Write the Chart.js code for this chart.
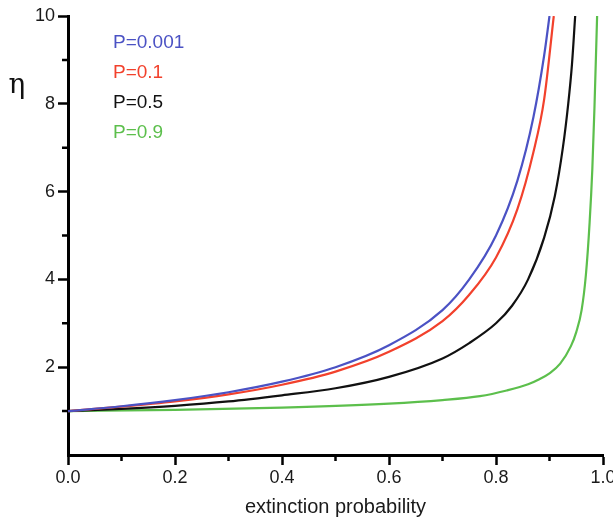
<!DOCTYPE html>
<html>
<head>
<meta charset="utf-8">
<script src="https://cdn.jsdelivr.net/npm/chart.js@4/dist/chart.umd.min.js"></script>
<style>
  html, body { margin: 0; padding: 0; background: #fff; }
  #wrap { width: 613px; height: 519px; }
</style>
</head>
<body>
<div id="wrap"><canvas id="chart" width="613" height="519"></canvas></div>
<script>
// values
const labels = ["P=0.001", "P=0.1", "P=0.5", "P=0.9"]
const colors = ["#4b52c4", "#f2412c", "#111111", "#5cbf4c"]

const blueX = [0, 0.1, 0.2, 0.3, 0.4, 0.5, 0.6, 0.7, 0.75, 0.8, 0.84, 0.87, 0.89, 0.9]
const blueY = [1, 1.11, 1.25, 1.43, 1.67, 2.0, 2.5, 3.3, 4.0, 5.0, 6.25, 7.7, 9.1, 10]

const redX = [0, 0.1, 0.2, 0.3, 0.4, 0.5, 0.6, 0.7, 0.75, 0.8, 0.84, 0.87, 0.89, 0.908]
const redY = [1, 1.1, 1.22, 1.38, 1.6, 1.9, 2.35, 3.05, 3.65, 4.5, 5.6, 6.9, 8.1, 10]

const blackX = [0, 0.1, 0.2, 0.3, 0.4, 0.5, 0.6, 0.7, 0.75, 0.8, 0.83, 0.86, 0.89, 0.91, 0.925, 0.935, 0.942, 0.948]
const blackY = [1, 1.05, 1.12, 1.22, 1.36, 1.52, 1.78, 2.2, 2.55, 3.0, 3.4, 4.0, 4.95, 5.9, 7.0, 8.0, 8.9, 10]

const greenX = [0, 0.2, 0.4, 0.6, 0.7, 0.77, 0.82, 0.86, 0.88, 0.9, 0.92, 0.94, 0.95, 0.96, 0.968, 0.975, 0.98, 0.984, 0.989]
const greenY = [1, 1.03, 1.08, 1.17, 1.25, 1.34, 1.47, 1.61, 1.72, 1.86, 2.08, 2.48, 2.8, 3.3, 4.1, 5.3, 6.5, 7.9, 10]

const xTicks = ["0.0", "0.2", "0.4", "0.6", "0.8", "1.0"]
const yTicks = ["2", "4", "6", "8", "10"]

const toPoints = (xs, ys) => xs.map((x, i) => ({ x: x, y: ys[i] }))
const seriesX = [blueX, redX, blackX, greenX]
const seriesY = [blueY, redY, blackY, greenY]

const FONT = "'Liberation Sans', Arial, sans-serif"

// text legend inside the plot, upright eta label, short minor ticks
const extras = {
  id: "extras",
  afterDraw(chart) {
    const { ctx, chartArea, scales } = chart
    ctx.save()

    // minor ticks halfway between the major ones
    ctx.strokeStyle = "#000"
    ctx.lineWidth = 2.5
    ctx.beginPath()
    for (let k = 1; k < 10; k += 2) {
      const px = scales.x.getPixelForValue(k / 10)
      ctx.moveTo(px, chartArea.bottom)
      ctx.lineTo(px, chartArea.bottom + 6)
      const py = scales.y.getPixelForValue(k)
      ctx.moveTo(chartArea.left, py)
      ctx.lineTo(chartArea.left - 6, py)
    }
    ctx.stroke()

    ctx.font = "19px " + FONT
    ctx.textBaseline = "middle"
    ctx.textAlign = "left"
    chart.data.datasets.forEach((ds, i) => {
      ctx.fillStyle = ds.borderColor
      ctx.fillText(ds.label, chartArea.left + 45, chartArea.top + 27 + i * 30)
    })
    ctx.fillStyle = "#111"
    ctx.font = "28px 'DejaVu Serif', serif"
    ctx.textAlign = "center"
    ctx.fillText("η", chartArea.left - 51, chartArea.top + 70)
    ctx.restore()
  }
}

new Chart(document.getElementById("chart"), {
  type: "line",
  data: {
    datasets: labels.map((label, i) => ({
      label: label,
      data: toPoints(seriesX[i], seriesY[i]),
      borderColor: colors[i],
      borderWidth: 2.2,
      pointRadius: 0,
      cubicInterpolationMode: "monotone",
      fill: false
    }))
  },
  options: {
    responsive: false,
    animation: false,
    layout: { padding: { top: 16, right: 10, left: 0, bottom: 0 } },
    plugins: { legend: { display: false }, tooltip: { enabled: false } },
    scales: {
      x: {
        type: "linear",
        min: 0,
        max: 1,
        afterFit(scale) {
          scale.height = 64
          scale.paddingRight = 10
        },
        border: { color: "#000", width: 3 },
        grid: { drawOnChartArea: false, drawTicks: true, tickLength: 10, tickWidth: 2.5, tickColor: "#000" },
        ticks: {
          stepSize: 0.2,
          color: "#1a1a1a",
          font: { family: FONT, size: 18 },
          padding: 2,
          maxRotation: 0,
          autoSkip: false,
          callback: (v) => xTicks[Math.round(v * 5)]
        },
        title: {
          display: true,
          text: "extinction probability",
          color: "#1a1a1a",
          font: { family: FONT, size: 20 },
          padding: { top: 4, bottom: 0 }
        }
      },
      y: {
        type: "linear",
        min: 0,
        max: 10,
        afterFit(scale) { scale.width = 68 },
        border: { color: "#000", width: 3 },
        grid: {
          drawOnChartArea: false,
          drawTicks: true,
          tickLength: 10,
          tickWidth: 2.5,
          tickColor: (c) => (c.tick && c.tick.value === 0 ? "rgba(0,0,0,0)" : "#000")
        },
        ticks: {
          stepSize: 2,
          color: "#1a1a1a",
          font: { family: FONT, size: 18 },
          padding: 3,
          autoSkip: false,
          callback: (v) => (v > 0 ? yTicks[v / 2 - 1] : "")
        }
      }
    }
  },
  plugins: [extras]
})
</script>
</body>
</html>
